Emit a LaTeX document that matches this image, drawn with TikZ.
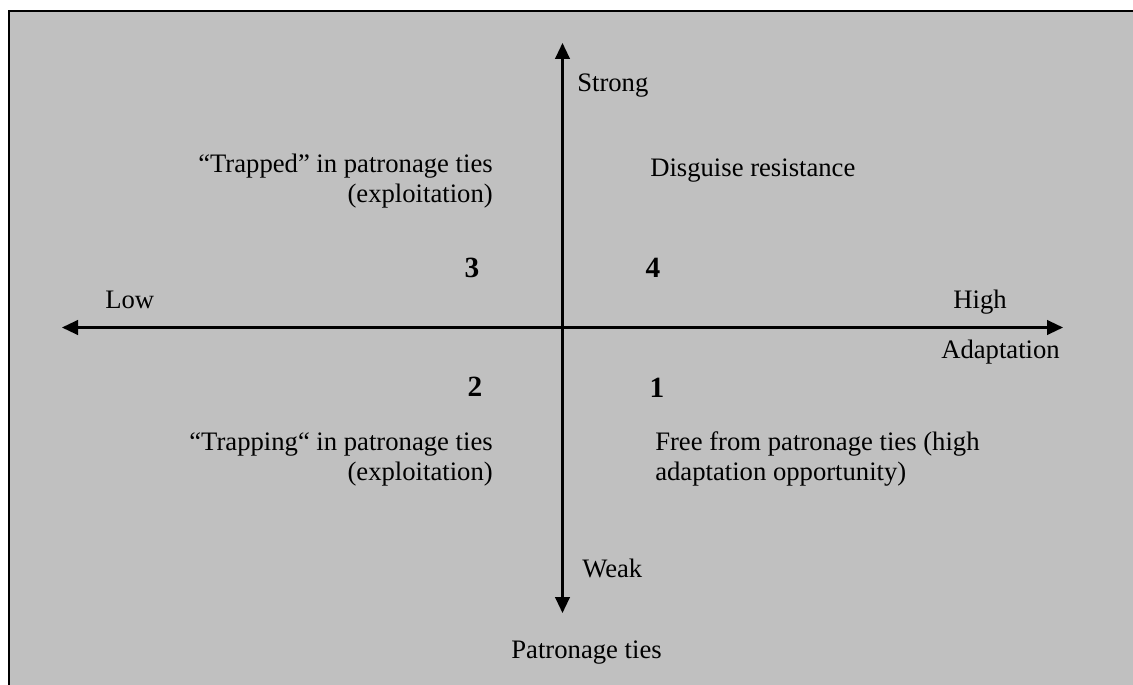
\documentclass[tikz,border=0pt]{standalone}
\usepackage{fontspec}
\setmainfont{Liberation Serif}
\usetikzlibrary{positioning, arrows.meta}
\definecolor{panelgray}{RGB}{192,192,192}
\tikzstyle{axis} = [line width=1.6pt, {Triangle[length=12pt,width=11pt]}-{Triangle[length=12pt,width=11pt]}]
\tikzstyle{axistext} = [inner sep=0pt, font=\fontsize{20}{22.5}\selectfont]
\tikzstyle{quadtext} = [inner sep=0pt, font=\fontsize{20}{22.5}\selectfont]
\tikzstyle{quadnum} = [inner sep=0pt, font=\fontsize{22}{26}\selectfont\bfseries]

\begin{document}
\begin{tikzpicture}[x=0.75pt, y=-0.75pt]
            \useasboundingbox (0,0) rectangle (1133,685);
            \fill [panelgray] (9,11) rectangle (1133,685);
            \draw [line width=1.2pt] (9,685) -- (9,11) -- (1133,11);

            \coordinate (lowend) at (62,327.5);
            \coordinate (highend) at (1063,327.5);
            \coordinate (strongend) at (562.5,43);
            \coordinate (weakend) at (562.5,613);

            \draw [axis] (lowend) -- (highend);
            \draw [axis] (weakend) -- (strongend);

            \node (strong) [axistext, anchor=base west] at (577,92) {Strong};
            \node (weak) [axistext, anchor=base west] at (582,577) {Weak};
            \node (low) [axistext, anchor=base west] at (105,308) {Low};
            \node (high) [axistext, anchor=base east] at (1007,308) {High};
            \node (adaptation) [axistext, anchor=base west] at (941,358) {Adaptation};
            \node (patronage) [axistext, anchor=base east] at (662,658) {Patronage ties};

            \node (num3) [quadnum, anchor=base] at (472,277) {3};
            \node (num4) [quadnum, anchor=base] at (653,277) {4};
            \node (num2) [quadnum, anchor=base] at (475,396) {2};
            \node (num1) [quadnum, anchor=base] at (657,397) {1};

            \node (trapped) [quadtext, align=right, anchor=base east] at (493,202) {“Trapped” in patronage ties\\(exploitation)};
            \node (disguise) [quadtext, anchor=base west] at (650,176) {Disguise resistance};
            \node (trapping) [quadtext, align=right, anchor=base east] at (493,480) {“Trapping“ in patronage ties\\(exploitation)};
            \node (free) [quadtext, align=left, anchor=base west] at (655,480) {Free from patronage ties (high\\adaptation opportunity)};

        \end{tikzpicture}
\end{document}
